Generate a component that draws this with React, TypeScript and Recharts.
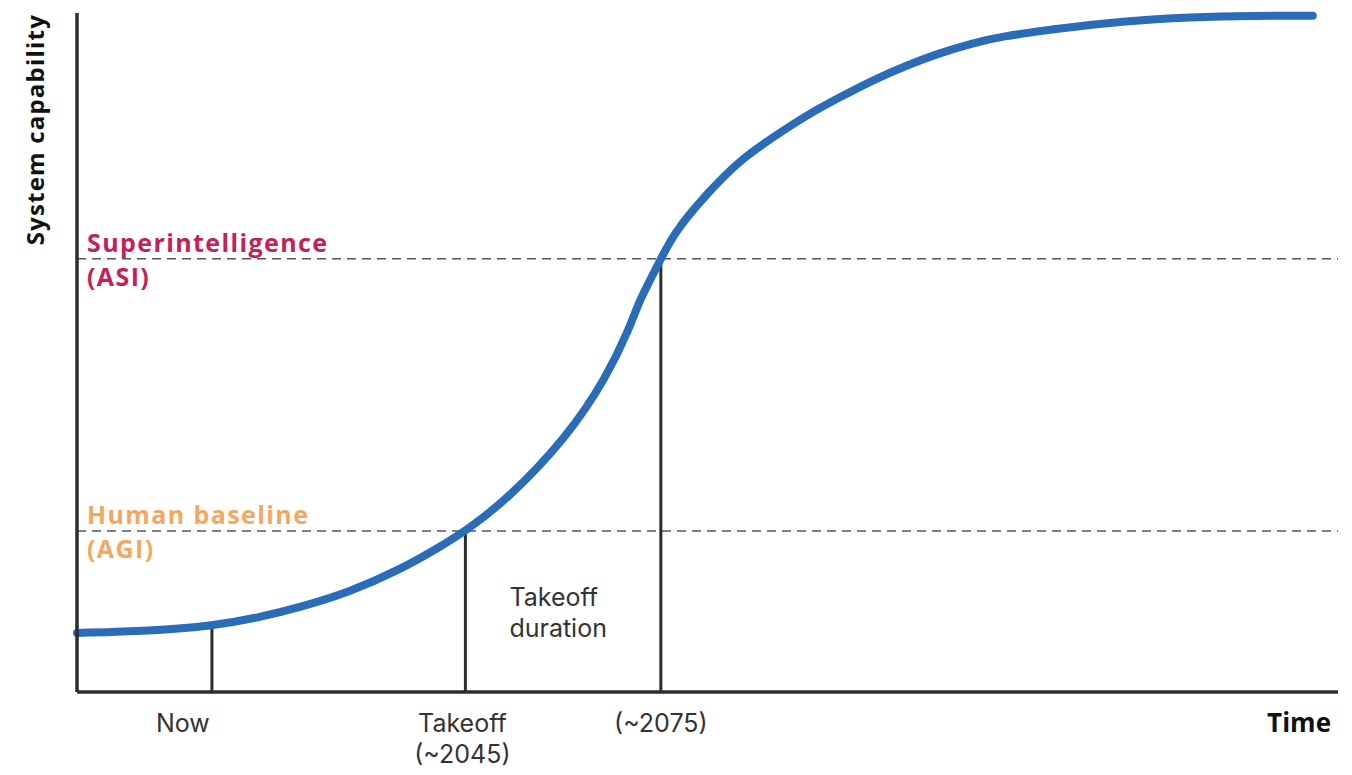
import React from 'react';
import { LineChart, Line, XAxis, YAxis, ReferenceLine, ReferenceArea } from 'recharts';

// Schematic scale: time and capability both run 0–100
const timeSteps = [
  0, 5.8, 10.7, 14.5, 17.7, 21.6, 25.6, 28.8, 30.8, 34.1, 38.9, 42.0, 43.8, 44.6, 46.0,
  47.3, 50.0, 52.6, 55.2, 57.9, 60.5, 63.1, 65.8, 68.4, 71.1, 73.2, 77.7, 82.9, 88.3, 93.6, 98.0,
];
const capability = [
  8.7, 9.0, 9.7, 11.0, 12.5, 14.7, 18.0, 21.4, 23.7, 28.3, 37.6, 46.4, 53.5, 57.7, 62.6,
  67.6, 73.5, 78.4, 81.7, 85.0, 87.6, 90.1, 92.3, 94.1, 95.6, 96.5, 97.7, 98.8, 99.4, 99.6, 99.6,
];

// Capability thresholds (dashed guides)
const thresholdValues = [23.7, 63.8];
const thresholdLabels = [
  ['Human baseline', '(AGI)'],
  ['Superintelligence', '(ASI)'],
];

// Milestones along the time axis
const milestoneTimes = [10.7, 30.8, 46.3];
const milestoneLabels = [['Now'], ['Takeoff', '(~2045)'], ['(~2075)']];

const curveData = timeSteps.map((t, i) => ({ t, cap: capability[i] }));

// where each milestone's marker meets the curve / threshold
const milestoneTops = [
  capability[timeSteps.indexOf(milestoneTimes[0])],
  thresholdValues[0],
  thresholdValues[1],
];

const FONT = '"Open Sans", "Liberation Sans", Arial, sans-serif';
const BODY_FONT = 'Inter, "Open Sans", Arial, sans-serif';
const INK = '#2d2d2d';
const CURVE = '#2b6cb8';
const THRESHOLD_COLORS = ['#f3a862', '#c2215b'];
const TICK_NUDGE = [-29, -3, 0];

const MilestoneTick = (props: any) => {
  const { x, y, payload } = props;
  const idx = milestoneTimes.indexOf(payload.value);
  if (idx < 0) return null;
  return (
    <g>
      {milestoneLabels[idx].map((line, i) => (
        <text
          key={line}
          x={x + TICK_NUDGE[idx]}
          y={y + 40 + i * 31}
          textAnchor="middle"
          fill="#333"
          fontSize={25}
          fontFamily={BODY_FONT}
        >
          {line}
        </text>
      ))}
    </g>
  );
};

const thresholdLabel = (idx: number) => (props: any) => {
  const { x, y } = props.viewBox;
  const [top, bottom] = thresholdLabels[idx];
  const common = {
    x: x + 10,
    fill: THRESHOLD_COLORS[idx],
    fontSize: 25,
    fontWeight: 700,
    fontFamily: FONT,
    letterSpacing: 1.4,
  };
  return (
    <g>
      <text {...common} y={y - 7}>{top}</text>
      <text {...common} y={y + 27}>{bottom}</text>
    </g>
  );
};

const durationLabel = (props: any) => {
  const { x, y } = props.viewBox;
  const common = { x: x + 44, fill: '#333', fontSize: 25, fontFamily: BODY_FONT };
  return (
    <g>
      <text {...common} y={y + 75}>Takeoff</text>
      <text {...common} y={y + 106}>duration</text>
    </g>
  );
};

const timeLabel = (props: any) => {
  const { x, y, width } = props.viewBox;
  return (
    <text
      x={x + width - 7}
      y={y + 40}
      textAnchor="end"
      fill="#111"
      fontSize={26}
      fontWeight={700}
      fontFamily={FONT}
    >
      Time
    </text>
  );
};

const capabilityLabel = (props: any) => {
  const { y } = props.viewBox;
  return (
    <text
      transform={`translate(44, ${y + 1}) rotate(-90)`}
      textAnchor="end"
      fill="#111"
      fontSize={24}
      fontWeight={700}
      fontFamily={FONT}
      letterSpacing={1.2}
    >
      System capability
    </text>
  );
};

export default function App() {
  return (
    <div style={{ position: 'absolute', left: 0, top: 0, background: '#fff' }}>
      <LineChart
        width={1352}
        height={775}
        data={curveData}
        margin={{ top: 13, right: 14, bottom: 0, left: 0 }}
      >
        <XAxis
          type="number"
          dataKey="t"
          domain={[0, 100]}
          ticks={milestoneTimes}
          tick={<MilestoneTick />}
          tickLine={false}
          tickSize={0}
          tickMargin={0}
          height={83}
          axisLine={{ stroke: INK, strokeWidth: 3.5 }}
          label={timeLabel}
        />
        <YAxis
          type="number"
          domain={[0, 100]}
          tick={false}
          tickLine={false}
          width={77}
          axisLine={{ stroke: INK, strokeWidth: 3.5 }}
          label={capabilityLabel}
        />
        {thresholdValues.map((v, i) => (
          <ReferenceLine
            key={`th-${i}`}
            y={v}
            stroke="#555"
            strokeWidth={1.5}
            strokeDasharray="9 6"
            label={thresholdLabel(i)}
          />
        ))}
        <ReferenceArea
          x1={milestoneTimes[1]}
          x2={milestoneTimes[2]}
          y1={0}
          y2={thresholdValues[0]}
          fillOpacity={0}
          strokeOpacity={0}
          label={durationLabel}
        />
        {milestoneTimes.map((t, i) => (
          <ReferenceLine
            key={`ms-${i}`}
            segment={[
              { x: t, y: 0 },
              { x: t, y: milestoneTops[i] },
            ]}
            stroke={INK}
            strokeWidth={3}
          />
        ))}
        <Line
          type="basis"
          dataKey="cap"
          stroke={CURVE}
          strokeWidth={8}
          strokeLinecap="round"
          dot={false}
          activeDot={false}
          isAnimationActive={false}
        />
      </LineChart>
    </div>
  );
}
